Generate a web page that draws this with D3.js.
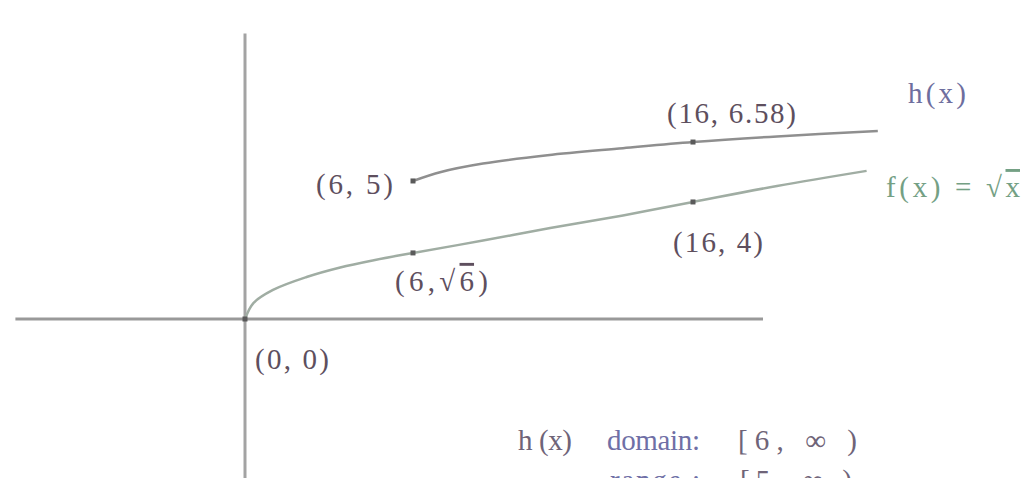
<!DOCTYPE html>
<html>
<head>
<meta charset="utf-8">
<script src="https://cdn.jsdelivr.net/npm/d3@7"></script>
<style>
  html, body { margin: 0; padding: 0; background: #fff; }
  svg { display: block; }
  text { font-family: "Liberation Serif", "DejaVu Serif", serif; }
</style>
</head>
<body>
<div id="chart"></div>
<script>
// values (x, y in graph units)
var fX = [0, 0.3, 1.0, 2.2, 3.4, 4.6, 6, 8.5, 10.9, 13.5, 16, 19, 22.2];
var fY = [0, 0.57, 1.04, 1.5, 1.84, 2.1, 2.36, 2.8, 3.25, 3.7, 4.18, 4.75, 5.29];
var hX = [6, 7, 8.5, 10.8, 13.5, 16, 19, 22.6];
var hY = [4.93, 5.25, 5.55, 5.85, 6.1, 6.32, 6.52, 6.71];
var markX = [0, 6, 6, 16, 16];
var markY = [0, 2.36, 4.93, 4.18, 6.32];
var markText = ["(0, 0)", "(6,\u221A6)", "(6, 5)", "(16, 4)", "(16, 6.58)"];
var axisX = [-8.2, 18.5];
var axisY = [-5.8, 10.2];

var width = 1025, height = 478;

var svg = d3.select("#chart").append("svg")
    .attr("width", width)
    .attr("height", height);

// 28 px per unit, origin at (245, 319)
var x = d3.scaleLinear().domain([0, 16]).range([245, 693]);
var y = d3.scaleLinear().domain([0, 5]).range([319, 179]);

// axes
svg.append("line")
    .attr("x1", x(axisX[0])).attr("x2", x(axisX[1]))
    .attr("y1", y(0)).attr("y2", y(0))
    .attr("stroke", "#999").attr("stroke-width", 3);
svg.append("line")
    .attr("x1", x(0)).attr("x2", x(0))
    .attr("y1", y(axisY[0])).attr("y2", y(axisY[1]))
    .attr("stroke", "#a3a3a3").attr("stroke-width", 3);

var line = d3.line()
    .x(function(d) { return x(d[0]); })
    .y(function(d) { return y(d[1]); })
    .curve(d3.curveCatmullRom.alpha(0.5));

svg.append("path")
    .datum(d3.zip(fX, fY))
    .attr("d", line)
    .attr("fill", "none")
    .attr("stroke", "#a0ada3")
    .attr("stroke-width", 2.5);

svg.append("path")
    .datum(d3.zip(hX, hY))
    .attr("d", line)
    .attr("fill", "none")
    .attr("stroke", "#8f8f8f")
    .attr("stroke-width", 2.5);

// marked points
var marks = d3.zip(markX, markY, markText);
svg.selectAll(".mark")
    .data(marks)
  .enter().append("rect")
    .attr("class", "mark")
    .attr("x", function(d) { return x(d[0]) - 2.5; })
    .attr("y", function(d) { return y(d[1]) - 2.5; })
    .attr("width", 5).attr("height", 5)
    .attr("fill", "#5a5a5a");

// label offsets from the point (dx, dy to text start/baseline) and widths
var offs = [[10, 50], [-18, 38], [-97, 13], [-20, 50], [-26, -19]];
var widths = [74, 93, 77, 90, 129];
var lbl = svg.selectAll(".lbl")
    .data(marks)
  .enter().append("text")
    .attr("class", "lbl")
    .attr("x", function(d, i) { return x(d[0]) + offs[i][0]; })
    .attr("y", function(d, i) { return y(d[1]) + offs[i][1]; })
    .attr("textLength", function(d, i) { return widths[i]; })
    .attr("lengthAdjust", "spacing")
    .attr("font-size", 29)
    .attr("fill", "#5e4f5e");

lbl.each(function(d) {
    var t = d3.select(this);
    if (d[2].indexOf("\u221A") >= 0) {
        t.append("tspan").text("(6,\u221A");
        t.append("tspan").text("6").style("text-decoration", "overline");
        t.append("tspan").text(")");
    } else {
        t.text(d[2]);
    }
});

// curve names
svg.append("text")
    .attr("x", 908).attr("y", 103)
    .attr("font-size", 29)
    .attr("textLength", 58).attr("lengthAdjust", "spacing")
    .attr("fill", "#6e6e9e")
    .text("h(x)");

var fl = svg.append("text")
    .attr("x", 886).attr("y", 197)
    .attr("font-size", 29)
    .attr("textLength", 134).attr("lengthAdjust", "spacing")
    .attr("fill", "#74a084");
fl.append("tspan").text("f(x) = \u221A");
fl.append("tspan").text("x").style("text-decoration", "overline");

// domain / range note (second line is cut by the bottom edge, as in the original)
var note = svg.append("g").attr("font-size", 29);
var noteRows = [
    [518, 450, "#6f6478", "h (x)", 54],
    [607, 450, "#6f6fa6", "domain:", 93],
    [738, 450, "#6f6478", "[6, \u221E )", 119],
    [610, 490, "#6f6fa6", "range :", 90],
    [740, 490, "#6f6478", "[5, \u221E )", 112]
];
note.selectAll("text")
    .data(noteRows)
  .enter().append("text")
    .attr("x", function(d) { return d[0]; })
    .attr("y", function(d) { return d[1]; })
    .attr("fill", function(d) { return d[2]; })
    .attr("textLength", function(d) { return d[4]; })
    .attr("lengthAdjust", "spacing")
    .text(function(d) { return d[3]; });
</script>
</body>
</html>
